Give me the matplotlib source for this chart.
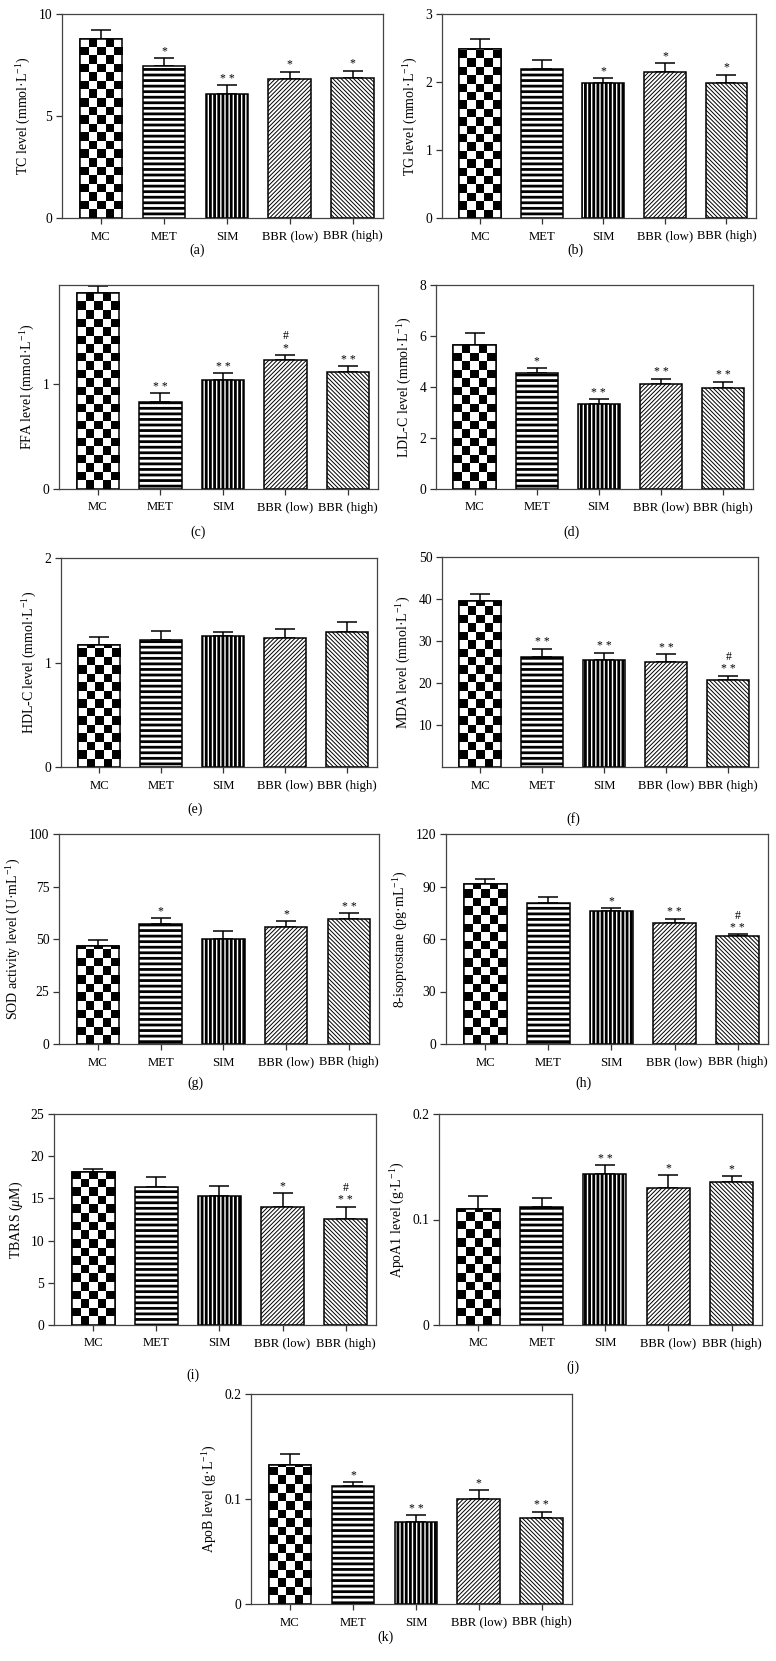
import matplotlib
matplotlib.use('Agg')
from matplotlib import pyplot as plt
import numpy as np

plt.rcParams['font.family'] = ['Liberation Serif', 'DejaVu Serif']
plt.rcParams['mathtext.fontset'] = 'custom'
plt.rcParams['mathtext.rm'] = 'Liberation Serif'
plt.rcParams['mathtext.it'] = 'Liberation Serif:italic'
plt.rcParams['font.size'] = 9

groups = ['MC', 'MET', 'SIM', 'BBR (low)', 'BBR (high)']

tc_mean = [8.76, 7.45, 6.10, 6.81, 6.84]
tc_sem = [0.45, 0.39, 0.40, 0.37, 0.39]
tc_star = ['', '*', '**', '*', '*']
tc_hash = ['', '', '', '', '']

tg_mean = [2.49, 2.19, 1.99, 2.14, 1.98]
tg_sem = [0.14, 0.13, 0.07, 0.14, 0.13]
tg_star = ['', '', '*', '*', '*']
tg_hash = ['', '', '', '', '']

ffa_mean = [1.86, 0.826, 1.038, 1.229, 1.11]
ffa_sem = [0.07, 0.085, 0.062, 0.047, 0.055]
ffa_star = ['', '**', '**', '*', '**']
ffa_hash = ['', '', '', '#', '']

ldl_mean = [5.65, 4.54, 3.33, 4.10, 3.96]
ldl_sem = [0.45, 0.19, 0.19, 0.23, 0.24]
ldl_star = ['', '*', '**', '**', '**']
ldl_hash = ['', '', '', '', '']

hdl_mean = [1.171, 1.213, 1.251, 1.235, 1.29]
hdl_sem = [0.074, 0.087, 0.044, 0.085, 0.095]
hdl_star = ['', '', '', '', '']
hdl_hash = ['', '', '', '', '']

mda_mean = [39.6, 26.3, 25.4, 25.1, 20.8]
mda_sem = [1.7, 1.9, 1.8, 1.7, 0.9]
mda_star = ['', '**', '**', '**', '**']
mda_hash = ['', '', '', '', '#']

sod_mean = [46.7, 57.3, 50.2, 55.7, 59.5]
sod_sem = [3.0, 2.5, 3.5, 2.7, 2.7]
sod_star = ['', '*', '', '*', '**']
sod_hash = ['', '', '', '', '']

iso_mean = [91.2, 80.8, 75.8, 69.1, 61.5]
iso_sem = [2.9, 3.0, 2.1, 2.5, 1.2]
iso_star = ['', '', '*', '**', '**']
iso_hash = ['', '', '', '', '#']

tbars_mean = [18.08, 16.3, 15.27, 14.04, 12.58]
tbars_sem = [0.39, 1.2, 1.23, 1.56, 1.46]
tbars_star = ['', '', '', '*', '**']
tbars_hash = ['', '', '', '', '#']

apoa1_mean = [0.110, 0.112, 0.1427, 0.1297, 0.1351]
apoa1_sem = [0.0121, 0.0086, 0.0086, 0.0127, 0.006]
apoa1_star = ['', '', '**', '*', '*']
apoa1_hash = ['', '', '', '', '']

apob_mean = [0.1321, 0.1124, 0.0781, 0.100, 0.0819]
apob_sem = [0.0108, 0.0035, 0.0063, 0.0089, 0.0057]
apob_star = ['', '*', '**', '*', '**']
apob_hash = ['', '', '', '', '']

hatches = ['', '---', '||||', '/' * 8, '\\' * 8]
hatch_lw = [1.0, 2.0, 2.0, 0.7, 0.7]

W, H = 776, 1661
fig = plt.figure(figsize=(W / 100, H / 100), dpi=100)


def panel(box, mean, sem, star, hsh, ylim, yticks, ylabel, tag, tag_xy):
    l, t, r, b = box
    ax = fig.add_axes([l / W, 1 - b / H, (r - l) / W, (b - t) / H])
    x = np.arange(len(groups))
    ax.set_xlim(-0.62, 4.48)
    ax.set_ylim(*ylim)
    bars = ax.bar(x, mean, width=0.68, color='white', edgecolor='black',
                  linewidth=1.1, zorder=2)
    for bar, hatch, lw in zip(bars, hatches, hatch_lw):
        bar.set_hatch(hatch)
        if hasattr(bar, 'set_hatch_linewidth'):
            bar.set_hatch_linewidth(lw)
    # checkerboard for the first bar
    b0 = bars[0]
    ppx = (r - l) / (4.48 + 0.62)
    ppy = (b - t) / (ylim[1] - ylim[0])
    sq = b0.get_width() * ppx / 5
    nrows = int(np.ceil(b0.get_height() * ppy / sq))
    board = np.indices((nrows, 5)).sum(axis=0) % 2
    img = ax.imshow(board, cmap='gray_r', interpolation='nearest', origin='lower',
                    extent=(b0.get_x(), b0.get_x() + b0.get_width(), 0, nrows * sq / ppy),
                    aspect='auto', zorder=2.5)
    img.set_clip_path(b0)
    ax.bar(x[:1], mean[:1], width=0.68, fill=False, edgecolor='black',
           linewidth=1.1, zorder=3)
    ax.errorbar(x, mean, yerr=[np.zeros(len(x)), sem], fmt='none', ecolor='black',
                elinewidth=1.1, capsize=7.5, capthick=1.1, zorder=1)
    for xi, m, e, s, h in zip(x, mean, sem, star, hsh):
        if s:
            ax.annotate(' '.join(s), xy=(xi, m + e), xytext=(0, 0.5), textcoords='offset points',
                        ha='center', va='bottom', fontsize=8.5)
        if h:
            ax.annotate(h, xy=(xi, m + e), xytext=(0, 9), textcoords='offset points',
                        ha='center', va='bottom', fontsize=8.5)
    ax.set_xlim(-0.62, 4.48)
    ax.set_ylim(*ylim)
    ax.set_xticks(x)
    ax.set_xticklabels(groups)
    ax.set_yticks(yticks)
    ax.set_yticklabels(['%g' % v for v in yticks])
    ax.tick_params(length=4, width=0.9, color='#333333', pad=3)
    ax.tick_params(axis='x', pad=5, labelsize=9.2)
    ax.tick_params(axis='y', labelsize=9.8)
    for sp in ax.spines.values():
        sp.set_color('#444444')
        sp.set_linewidth(0.9)
    ax.set_ylabel(ylabel, fontsize=10, labelpad=4)
    fig.text(tag_xy[0] / W, 1 - tag_xy[1] / H, tag, ha='center', va='center', fontsize=10)
    return ax


mm = '(mmol·L$^{-1}$)'
panel((62, 14, 383, 218), tc_mean, tc_sem, tc_star, tc_hash, (0, 10), [0, 5, 10],
      'TC level ' + mm, '(a)', (197, 250))
panel((442, 14, 756, 218), tg_mean, tg_sem, tg_star, tg_hash, (0, 3), [0, 1, 2, 3],
      'TG level ' + mm, '(b)', (575, 250))
panel((59, 285, 378, 489), ffa_mean, ffa_sem, ffa_star, ffa_hash, (0, 1.94), [0, 1],
      'FFA level ' + mm, '(c)', (198, 532))
panel((436, 285, 753, 489), ldl_mean, ldl_sem, ldl_star, ldl_hash, (0, 8), [0, 2, 4, 6, 8],
      'LDL-C level ' + mm, '(d)', (572, 532))
panel((61, 558, 377, 767), hdl_mean, hdl_sem, hdl_star, hdl_hash, (0, 2), [0, 1, 2],
      'HDL-C level ' + mm, '(e)', (195, 809))
panel((442, 557, 758, 767), mda_mean, mda_sem, mda_star, mda_hash, (0, 50), [10, 20, 30, 40, 50],
      'MDA level ' + mm, '(f)', (573, 819))
panel((59, 834, 379, 1044), sod_mean, sod_sem, sod_star, sod_hash, (0, 100), [0, 25, 50, 75, 100],
      'SOD activity level (U·mL$^{-1}$)', '(g)', (195, 1083))
panel((446, 834, 768, 1044), iso_mean, iso_sem, iso_star, iso_hash, (0, 120), [0, 30, 60, 90, 120],
      '8-isoprostane (pg·mL$^{-1}$)', '(h)', (584, 1083))
panel((54, 1114, 376, 1325), tbars_mean, tbars_sem, tbars_star, tbars_hash, (0, 25), [0, 5, 10, 15, 20, 25],
      'TBARS ($\\mu$M)', '(i)', (193, 1375))
panel((439, 1114, 762, 1325), apoa1_mean, apoa1_sem, apoa1_star, apoa1_hash, (0, 0.2), [0, 0.1, 0.2],
      'ApoA1 level (g·L$^{-1}$)', '(j)', (573, 1367))
panel((251, 1394, 572, 1604), apob_mean, apob_sem, apob_star, apob_hash, (0, 0.2), [0, 0.1, 0.2],
      'ApoB level (g·L$^{-1}$)', '(k)', (385, 1637))

fig.savefig('out.png', dpi=100)
